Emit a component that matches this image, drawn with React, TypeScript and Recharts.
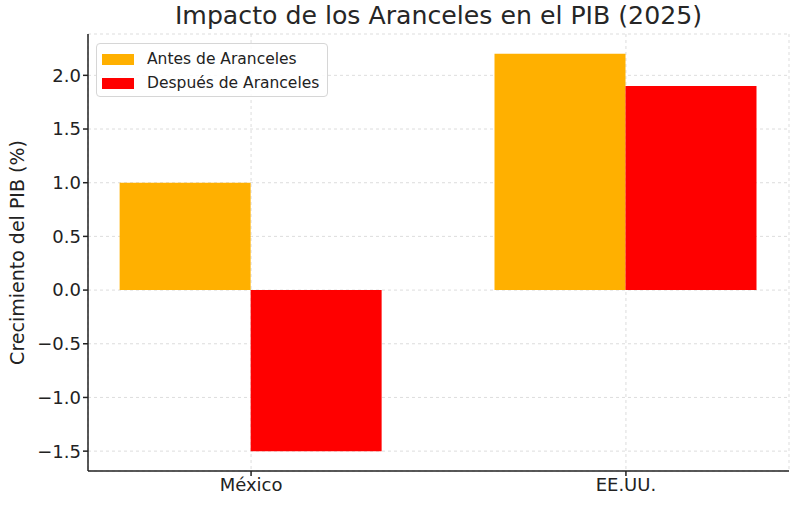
import React from 'react';
import { ComposedChart, Bar, XAxis, YAxis, CartesianGrid } from 'recharts';

const categories = ['México', 'EE.UU.'];
const antes = [1.0, 2.2];
const despues = [-1.5, 1.9];
const yTicks = [-1.5, -1.0, -0.5, 0.0, 0.5, 1.0, 1.5, 2.0];
const seriesNames = ['Antes de Aranceles', 'Después de Aranceles'];
const colors = ['#FFB000', '#FF0000'];

const data = categories.map((c, i) => ({ x: i, name: c, antes: antes[i], despues: despues[i] }));

const FONT = 'DejaVu Sans, sans-serif';

const LegendBox = () => (
  <div
    style={{
      position: 'absolute',
      left: 96,
      top: 43,
      boxSizing: 'border-box',
      border: '1px solid #d6d6d6',
      borderRadius: 4,
      background: 'rgba(255,255,255,0.85)',
      padding: '3px 6px 3px 5px',
      fontFamily: FONT,
      fontSize: 15.5,
      color: '#222',
      width: 232,
      height: 54,
    }}
  >
    {seriesNames.map((n, i) => (
      <div key={n} style={{ display: 'flex', alignItems: 'center', height: 24 }}>
        <span style={{ display: 'inline-block', width: 32, height: 11, background: colors[i], marginRight: 13 }} />
        <span>{n}</span>
      </div>
    ))}
  </div>
);

const fmt = (v: number) => {
  const s = v.toFixed(1);
  return s.startsWith('-') ? '\u2212' + s.slice(1) : s;
};

export default function App() {
  return (
    <div style={{ position: 'absolute', left: 0, top: 0, width: 800, height: 506, background: '#fff' }}>
      <div
        style={{
          position: 'absolute',
          left: 88,
          width: 701,
          top: 1,
          textAlign: 'center',
          fontFamily: FONT,
          fontSize: 25.2,
          color: '#262626',
          whiteSpace: 'nowrap',
        }}
      >
        Impacto de los Aranceles en el PIB (2025)
      </div>
      <ComposedChart
        width={800}
        height={506}
        data={data}
        margin={{ top: 34, right: 11, bottom: 10, left: 28 }}
        barGap={0}
      >
        <CartesianGrid stroke="#d4d4d4" strokeDasharray="3 3" strokeWidth={0.8} />
        <XAxis
          dataKey="x"
          type="number"
          domain={[-0.435, 1.435]}
          ticks={[0, 1]}
          allowDataOverflow
          tickFormatter={(v: number) => categories[v] ?? ''}
          height={25}
          stroke="#222"
          strokeWidth={1.5}
          tickSize={5}
          tick={{ fill: '#222', fontFamily: FONT, fontSize: 18 }}
          interval={0}
        />
        <YAxis
          type="number"
          domain={[-1.685, 2.385]}
          ticks={yTicks}
          allowDataOverflow
          tickFormatter={fmt}
          width={60}
          stroke="#222"
          strokeWidth={1.5}
          tickSize={5}
          tick={{ fill: '#222', fontFamily: FONT, fontSize: 18 }}
          label={{
            value: 'Crecimiento del PIB (%)',
            angle: -90,
            position: 'insideLeft',
            offset: -11,
            style: { textAnchor: 'middle', fill: '#222', fontFamily: FONT, fontSize: 19 },
          }}
        />
        <Bar dataKey="antes" name={seriesNames[0]} fill={colors[0]} barSize={131} isAnimationActive={false} />
        <Bar dataKey="despues" name={seriesNames[1]} fill={colors[1]} barSize={131} isAnimationActive={false} />
      </ComposedChart>
      <LegendBox />
    </div>
  );
}
